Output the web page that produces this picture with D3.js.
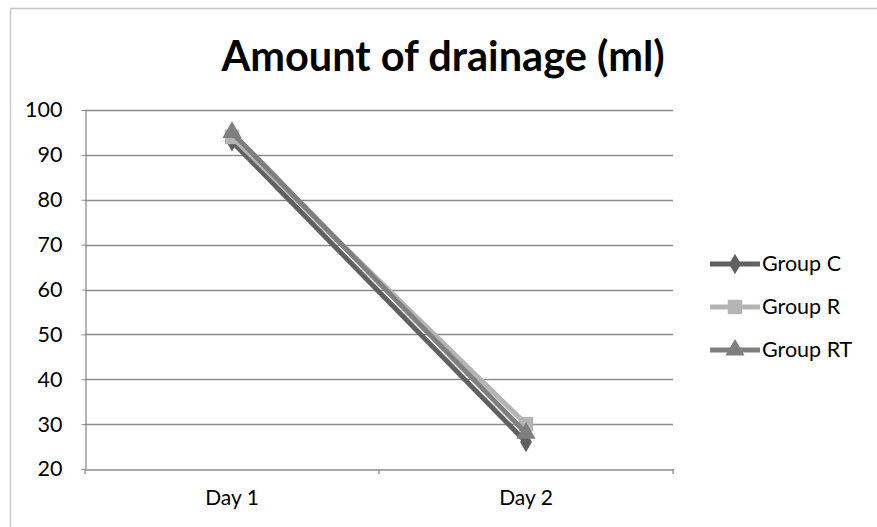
<!DOCTYPE html>
<html><head><meta charset="utf-8">
<script src="https://cdn.jsdelivr.net/npm/d3@7"></script>
<style>body{margin:0;background:#fff}svg{display:block}text{font-family:Lato,"Open Sans",sans-serif}</style>
</head><body><svg id="c" width="877" height="527"></svg>
<script>
const categories = ["Day 1", "Day 2"];
const seriesNames = ["Group C", "Group R", "Group RT"];
const groupC = [93, 26];
const groupR = [94, 30];
const groupRT = [95, 28];
const yTicks = [20, 30, 40, 50, 60, 70, 80, 90, 100];
const title = "Amount of drainage (ml)";

const series = [
  {name: seriesNames[0], values: groupC, color: "#606060", sym: d3.symbolDiamond, size: 120},
  {name: seriesNames[1], values: groupR, color: "#b4b4b4", sym: d3.symbolSquare, size: 210},
  {name: seriesNames[2], values: groupRT, color: "#7f7f7f", sym: d3.symbolTriangle, size: 160}
];

const svg = d3.select("#c");
const L = 85, R = 673, T = 110, B = 469;
const x = d3.scaleBand().domain(categories).range([L, R]);
const y = d3.scaleLinear().domain([20, 100]).range([B, T]);
const FF = "Lato,'Open Sans',sans-serif";

// outer border
svg.append("path").attr("d", `M10.5,${527}V8.5H877`).attr("fill","none").attr("stroke","#c8c8c8").attr("stroke-width",1.5);

svg.append("text").attr("x", 443).attr("y", 71).attr("text-anchor","middle")
  .attr("font-size", 41.5).attr("font-weight","bold").attr("fill","#000").text(title);

// grid
svg.append("g").selectAll("line").data(yTicks.slice(1)).join("line")
  .attr("x1", L).attr("x2", R).attr("y1", d=>Math.round(y(d))+0.5).attr("y2", d=>Math.round(y(d))+0.5)
  .attr("stroke","#8c8c8c").attr("stroke-width",1.3);

// y axis
const ya = svg.append("g").attr("transform",`translate(${L+0.5},0)`)
  .call(d3.axisLeft(y).tickValues(yTicks).tickSize(4).tickPadding(19).tickSizeOuter(0));
ya.select(".domain").attr("stroke","#8c8c8c").attr("stroke-width",1.3);
ya.selectAll(".tick line").attr("stroke","#8c8c8c");
ya.selectAll("text").attr("font-size",21.5).attr("fill","#000").attr("font-family",FF);

// x axis
const xa = svg.append("g").attr("transform",`translate(0,${Math.round(B)+0.5})`)
  .call(d3.axisBottom(x).tickSize(0).tickPadding(21).tickSizeOuter(0));
xa.select(".domain").attr("stroke","#8c8c8c").attr("stroke-width",1.3);
xa.selectAll("text").attr("font-size",21).attr("fill","#000").attr("font-family",FF);
svg.append("g").selectAll("line").data([L, (L+R)/2, R]).join("line")
  .attr("x1", d=>d).attr("x2", d=>d).attr("y1", B).attr("y2", B+5).attr("stroke","#8c8c8c").attr("stroke-width",1.3);

const cx = d => x(d) + x.bandwidth()/2;
const line = d3.line().x((d,i)=>cx(categories[i])).y(d=>y(d));

series.forEach(s => {
  const g = svg.append("g");
  g.append("path").attr("d", line(s.values)).attr("fill","none").attr("stroke", s.color).attr("stroke-width",5);
  g.selectAll("path.m").data(s.values).join("path").attr("class","m")
    .attr("d", d3.symbol().type(s.sym).size(s.size))
    .attr("transform",(d,i)=>`translate(${cx(categories[i])},${y(d)})`).attr("fill", s.color);
});

// legend
const lg = svg.append("g");
series.forEach((s,i) => {
  const yy = 264 + i*43;
  lg.append("line").attr("x1",710).attr("x2",760).attr("y1",yy).attr("y2",yy).attr("stroke",s.color).attr("stroke-width",5);
  lg.append("path").attr("d", d3.symbol().type(s.sym).size(s.size)).attr("transform",`translate(735,${yy})`).attr("fill",s.color);
  lg.append("text").attr("x",762).attr("y",yy+7).attr("font-size",21.5).attr("fill","#000").text(s.name);
});
</script></body></html>
